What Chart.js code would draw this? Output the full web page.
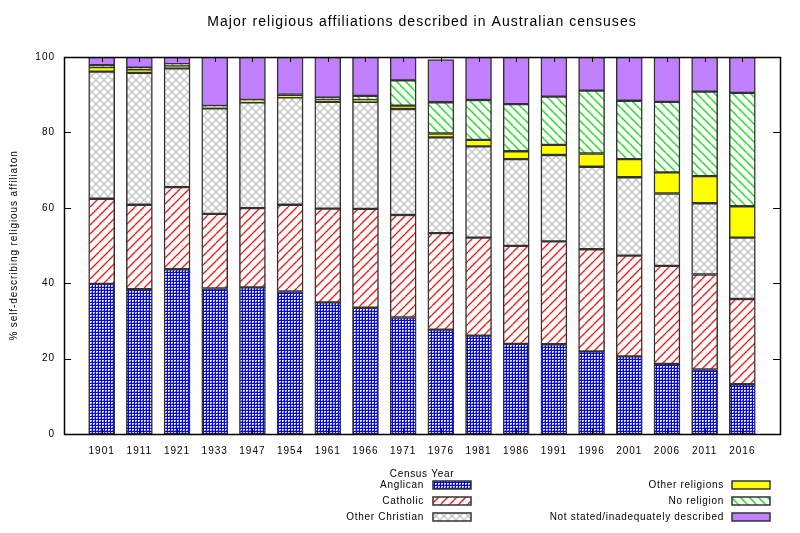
<!DOCTYPE html>
<html><head><meta charset="utf-8">
<script src="https://cdn.jsdelivr.net/npm/chart.js@4.4.1/dist/chart.umd.min.js"></script>
<style>html,body{margin:0;padding:0;background:#fff}</style>
</head><body>
<canvas id="c" width="800" height="533"></canvas>
<script>
const chartTitle = 'Major religious affiliations described in Australian censuses';
const yAxisLabel = '% self-describing religious affiliaton';
const xAxisLabel = 'Census Year';
const years = ['1901','1911','1921','1933','1947','1954','1961','1966','1971','1976','1981','1986','1991','1996','2001','2006','2011','2016'];
const yTicks = [0, 20, 40, 60, 80, 100];
const anglican       = [39.8, 38.4, 43.7, 38.6, 38.9, 37.8, 34.9, 33.5, 30.9, 27.7, 26.1, 23.9, 23.8, 21.9, 20.6, 18.6, 17.1, 13.2];
const catholic       = [22.6, 22.4, 21.8, 19.8, 21.0, 23.0, 24.9, 26.2, 27.2, 25.6, 26.0, 26.0, 27.3, 27.1, 26.7, 26.0, 25.2, 22.6];
const otherChristian = [33.7, 35.0, 31.5, 28.0, 28.1, 28.5, 28.3, 28.4, 28.1, 25.4, 24.2, 23.0, 22.9, 21.9, 20.8, 19.2, 18.9, 16.3];
const otherReligions = [1.2, 0.9, 0.7, 0.2, 0.3, 0.5, 0.7, 0.5, 0.9, 1.0, 1.7, 2.1, 2.7, 3.5, 4.8, 5.6, 7.2, 8.3];
const noReligion     = [0.5, 0.5, 0.4, 0.4, 0.3, 0.2, 0.4, 1.1, 6.7, 8.3, 10.6, 12.5, 12.8, 16.7, 15.5, 18.7, 22.4, 30.1];
const notStated      = [2.2, 2.8, 1.9, 13.0, 11.4, 10.0, 10.8, 10.3, 6.2, 11.3, 11.4, 12.5, 10.5, 8.9, 11.6, 11.9, 9.2, 9.5];

const FONT = '"Liberation Sans", Arial, sans-serif';

function tile(size, draw) {
  const c = document.createElement('canvas');
  c.width = size; c.height = size;
  const g = c.getContext('2d');
  draw(g, size);
  return document.getElementById('c').getContext('2d').createPattern(c, 'repeat');
}
function lines(g, s, color, w, dir) {
  g.strokeStyle = color; g.lineWidth = w;
  g.beginPath();
  for (let k = -1; k <= 1; k++) {
    if (dir > 0) { g.moveTo(k * s, s); g.lineTo(k * s + s, 0); }
    else { g.moveTo(k * s, 0); g.lineTo(k * s + s, s); }
  }
  g.stroke();
}
const patAnglican = tile(3, (g, s) => {
  g.fillStyle = '#0000ff'; g.fillRect(0, 0, s, s);
  g.fillStyle = '#e4e4ff'; g.fillRect(0, 0, 2, 2);
  g.fillStyle = '#7070ff'; g.fillRect(1, 1, 1, 1);
});
const patCatholic = tile(9, (g, s) => { g.fillStyle = '#fff'; g.fillRect(0, 0, s, s); lines(g, s, '#ff1010', 1.3, 1); });
const patOtherChr = tile(8, (g, s) => { g.fillStyle = '#fff'; g.fillRect(0, 0, s, s); lines(g, s, '#c4c4c4', 1.3, 1); lines(g, s, '#c4c4c4', 1.3, -1); });
const patNoRel = tile(9, (g, s) => { g.fillStyle = '#fff'; g.fillRect(0, 0, s, s); lines(g, s, '#20e020', 1.5, -1); });

const labels = [''].concat(years, ['']);
const pad = arr => [null].concat(arr, [null]);

const series = [
  { label: 'Anglican', data: anglican, bg: patAnglican },
  { label: 'Catholic', data: catholic, bg: patCatholic },
  { label: 'Other Christian', data: otherChristian, bg: patOtherChr },
  { label: 'Other religions', data: otherReligions, bg: '#ffff00' },
  { label: 'No religion', data: noReligion, bg: patNoRel },
  { label: 'Not stated/inadequately described', data: notStated, bg: '#c080ff' }
];

const decor = {
  id: 'decor',
  beforeDraw(chart) {
    chart.ctx.letterSpacing = '1px';
  },
  afterDatasetsDraw(chart) {
    const ctx = chart.ctx, a = chart.chartArea, x = chart.scales.x, y = chart.scales.y;
    ctx.save();
    ctx.strokeStyle = '#000'; ctx.lineWidth = 1;
    ctx.beginPath();
    for (let i = 1; i <= years.length; i++) {
      const px = Math.round(x.getPixelForValue(i)) + 0.5;
      ctx.moveTo(px, a.bottom); ctx.lineTo(px, a.bottom - 5);
      ctx.moveTo(px, a.top); ctx.lineTo(px, a.top + 5);
    }
    yTicks.forEach(v => {
      const py = Math.round(y.getPixelForValue(v)) + 0.5;
      ctx.moveTo(a.left, py); ctx.lineTo(a.left + 7, py);
      ctx.moveTo(a.right, py); ctx.lineTo(a.right - 7, py);
    });
    ctx.stroke();
    ctx.lineWidth = 1.5;
    ctx.strokeRect(Math.round(a.left) + 0.5, Math.round(a.top) + 0.5, Math.round(a.right - a.left), Math.round(a.bottom - a.top));
    ctx.restore();
  },
  afterDraw(chart) {
    const ctx = chart.ctx, a = chart.chartArea;
    const cx = (a.left + a.right) / 2;
    ctx.save();
    ctx.fillStyle = '#000';
    ctx.font = '14px ' + FONT;
    ctx.textAlign = 'center'; ctx.textBaseline = 'middle';
    ctx.letterSpacing = '1.05px';
    ctx.fillText(chartTitle, cx, 22);
    ctx.font = '10px ' + FONT;
    ctx.letterSpacing = '0.9px';
    ctx.save();
    ctx.translate(14, (a.top + a.bottom) / 2);
    ctx.rotate(-Math.PI / 2);
    ctx.fillText(yAxisLabel, 0, 0);
    ctx.restore();
    ctx.letterSpacing = '0.7px';
    ctx.fillText(xAxisLabel, cx, 474);
    const rows = [485, 501, 517];
    chart.data.datasets.forEach((ds, i) => {
      const col = i < 3 ? 0 : 1;
      const ry = rows[i % 3];
      const textRight = col === 0 ? 424 : 724;
      const boxL = col === 0 ? 433 : 732;
      ctx.textAlign = 'right';
      ctx.fillStyle = '#000';
      ctx.fillText(ds.label, textRight, ry);
      ctx.fillStyle = ds.backgroundColor;
      ctx.fillRect(boxL, ry - 4, 38, 8);
      ctx.strokeStyle = '#333'; ctx.lineWidth = 1.5;
      ctx.strokeRect(boxL, ry - 4, 38, 8);
    });
    ctx.restore();
  }
};

new Chart(document.getElementById('c'), {
  type: 'bar',
  data: {
    labels: labels,
    datasets: series.map(s => ({
      label: s.label,
      data: pad(s.data),
      backgroundColor: s.bg,
      borderColor: '#333',
      borderWidth: 1.5,
      borderSkipped: false,
      barThickness: 26
    }))
  },
  plugins: [decor],
  options: {
    responsive: false,
    animation: false,
    events: [],
    layout: { padding: { top: 57, right: 20, left: 0, bottom: 0 } },
    plugins: { legend: { display: false }, title: { display: false }, tooltip: { enabled: false } },
    scales: {
      x: {
        type: 'category', stacked: true, offset: false,
        grid: { display: false, drawTicks: false }, border: { display: false },
        ticks: { autoSkip: false, maxRotation: 0, minRotation: 0, padding: 11, color: '#000', font: { family: FONT, size: 10 } },
        afterFit(s) { s.height = 99; }
      },
      y: {
        stacked: true, min: 0, max: 100,
        grid: { display: false, drawTicks: false }, border: { display: false },
        ticks: { stepSize: 20, padding: 9, color: '#000', font: { family: FONT, size: 10 } },
        afterFit(s) { s.width = 64; }
      }
    }
  }
});
</script>
</body></html>
